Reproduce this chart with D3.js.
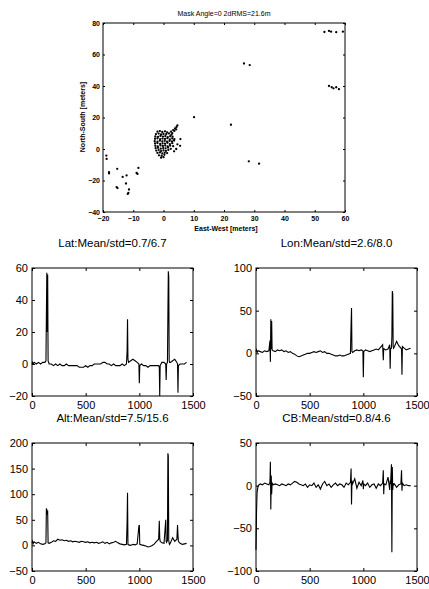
<!DOCTYPE html>
<html lang="en">
<head>
<meta charset="UTF-8" />
<title>Mask Angle=0 2dRMS=21.6m</title>
<style>
  body { margin: 0; background: #fff; }
  svg { display: block; }
  .ax text { font-family: "Liberation Sans", Arial, sans-serif; fill: #000; }
  .ax line { stroke: #000; }
</style>
</head>
<body>
<svg id="chart" width="429" height="589"></svg>
<script src="https://cdn.jsdelivr.net/npm/d3@7"></script>
<script>
// Position fixes, East-West / North-South in meters
const eastWest = [
  53.2, 54.7, 55.4, 57.1, 59.3, 26.6, 28.5, 54.7, 55.6, 56.2, 57.1, 58.0,
  10.1, 22.3, 28.2, 31.6,
  -18.9, -18.8, -18.0, -18.0, -15.3, -13.5, -12.2, -8.9, -8.6, -8.3,
  -15.5, -15.2, -12.4, -11.6, -11.4, -11.8,
  // main cluster
  -2.0, -1.2, -0.4, 0.5, 1.2,
  -2.5, -1.6, -0.8, 0.0, 0.9, 1.8, 2.6,
  -2.7, -1.8, -1.0, -0.2, 0.6, 1.4, 2.2, 3.0,
  -2.8, -2.0, -1.1, -0.3, 0.5, 1.3, 2.1, 2.9, 3.6,
  -2.9, -2.0, -1.2, -0.4, 0.4, 1.2, 2.0, 2.8, 3.5,
  -2.8, -2.0, -1.1, -0.3, 0.5, 1.3, 2.1, 2.9,
  -2.7, -1.9, -1.0, -0.2, 0.6, 1.4, 2.2, 3.2,
  -2.6, -1.8, -0.9, -0.1, 0.7, 1.5, 2.4,
  -2.4, -1.6, -0.8, 0.0, 0.8, 1.6,
  -2.0, -1.2, -0.4, 0.4, 1.2,
  -1.5, -0.6, 0.3,
  -0.8, 0.0,
  2.5, 3.2, 3.8, 4.3, 4.6, 3.6, 4.2, 2.9,
  5.6, 4.6, 4.2, 5.5, 3.5
];
const northSouth = [
  74.3, 75.0, 74.5, 74.2, 74.5, 54.3, 53.3, 40.0, 39.2, 38.5, 39.2, 38.0,
  20.2, 15.4, -7.8, -9.3,
  -4.2, -6.3, -14.7, -15.5, -12.6, -17.7, -16.8, -15.2, -15.8, -12.0,
  -24.2, -24.8, -21.9, -27.8, -25.7, -28.5,
  11.0, 11.4, 10.8, 11.2, 10.6,
  9.5, 9.8, 9.2, 9.6, 9.4, 9.9, 9.1,
  8.0, 7.7, 8.3, 7.9, 8.2, 7.6, 8.1, 7.8,
  6.5, 6.8, 6.2, 6.6, 6.4, 6.9, 6.1, 6.7, 6.3,
  5.0, 4.7, 5.3, 4.9, 5.2, 4.6, 5.1, 4.8, 5.4,
  3.5, 3.8, 3.2, 3.6, 3.4, 3.9, 3.1, 3.7,
  2.0, 1.7, 2.3, 1.9, 2.2, 1.6, 2.1, 1.8,
  0.5, 0.8, 0.2, 0.6, 0.4, 0.9, 0.1,
  -1.0, -0.7, -1.3, -0.9, -1.2, -0.6,
  -2.5, -2.2, -2.8, -2.4, -2.6,
  -4.0, -4.3, -3.7,
  -5.5, -5.2,
  11.0, 12.0, 13.0, 14.0, 15.0, 11.5, 12.5, 10.0,
  6.3, 3.0, 0.0, 2.0, -1.5
];

// Epoch index shared by the four error series
const t = [0,5,10,20,40,60,80,100,120,130,
  134,138,142,146,150,160,180,200,220,240,
  260,280,300,320,340,360,380,400,420,440,
  460,480,500,520,540,560,580,600,620,640,
  660,680,700,720,740,760,780,800,820,840,
  860,880,886,890,894,900,920,940,960,980,
  996,1000,1004,1020,1040,1060,1080,1100,1120,1140,
  1160,1180,1186,1190,1194,1210,1230,1246,1250,1254,
  1262,1266,1270,1274,1278,1282,1290,1310,1330,1350,
  1356,1360,1364,1380,1400,1420,1440];

const lat = [0,1,0,1,0,1,0,1,1,2,
  30,57,20,56,2,0,0,-1,0,-1,
  0,-1,-1,0,-1,-1,-1,-1,-1,-2,
  -2,-2,-1,-2,-1,-1,0,0,0,0,
  1,1,0,0,-1,0,-1,-1,-1,0,
  -1,0,8,28,3,1,2,3,2,1,
  0,-12,-1,0,-1,-1,-2,-1,-1,-1,
  -1,-1,-2,-20,-1,1,1,0,-10,0,
  1,30,58,55,2,1,1,2,3,1,
  0,-18,-1,0,0,0,1];

const lon = [2,4,1,3,2,1,3,2,3,15,
  -10,40,5,38,4,3,2,4,3,4,
  2,3,1,2,0,-1,-3,-4,-3,-2,
  -1,0,0,1,2,1,2,3,1,2,
  0,0,-1,-2,-3,-3,-2,-3,-3,-2,
  -1,0,35,53,2,1,3,4,3,4,
  3,-28,2,4,3,2,3,4,5,4,
  7,10,-8,6,5,4,5,10,-18,6,
  6,20,73,70,8,6,8,14,9,6,
  5,-25,8,6,4,5,6];

const alt = [5,8,3,7,4,6,3,2,3,5,
  72,70,60,68,5,4,6,9,8,12,
  10,11,9,10,8,9,7,8,7,6,
  8,7,6,7,5,6,5,6,4,5,
  7,4,6,3,5,6,8,5,3,2,
  1,2,45,103,2,1,0,2,1,3,
  38,40,2,1,0,-1,-3,-2,0,3,
  8,12,48,15,8,5,4,50,8,6,
  10,180,175,10,4,2,5,15,8,12,
  40,20,8,4,2,3,4];

const cb = [-75,-30,-8,0,2,1,3,2,1,4,
  28,-28,12,-10,3,1,2,1,0,2,
  1,0,2,1,3,5,4,2,1,0,
  2,-2,1,0,3,-2,1,-4,2,5,
  0,2,-2,1,3,0,2,1,-2,3,
  1,4,20,-22,6,2,8,-3,4,0,
  6,-4,2,0,3,-2,1,2,-3,2,
  0,3,18,-10,2,1,10,-5,6,2,
  25,-78,22,-5,3,1,2,-2,1,2,
  18,-6,3,0,1,0,0];

const timeTicks = [0, 500, 1000, 1500];
const ewTicks = [-20, -10, 0, 10, 20, 30, 40, 50, 60];
const nsTicks = [-40, -20, 0, 20, 40, 60, 80];

const svg = d3.select("#chart");
const plain = d3.format("d");

function frameAxes(g, x, y, box, xt, yt, fs, pad, tk) {
  const b = box.y + box.h, r = box.x + box.w;
  g.append("g").attr("class", "ax").attr("transform", `translate(0,${b})`)
    .call(d3.axisBottom(x).tickValues(xt).tickFormat(plain).tickSize(-tk).tickSizeOuter(0).tickPadding(pad))
    .call(s => s.select(".domain").remove());
  g.append("g").attr("class", "ax").attr("transform", `translate(0,${box.y})`)
    .call(d3.axisTop(x).tickValues(xt).tickSize(-tk).tickSizeOuter(0).tickFormat(""))
    .call(s => s.select(".domain").remove());
  g.append("g").attr("class", "ax").attr("transform", `translate(${box.x},0)`)
    .call(d3.axisLeft(y).tickValues(yt).tickFormat(plain).tickSize(-tk).tickSizeOuter(0).tickPadding(pad - 1))
    .call(s => s.select(".domain").remove());
  g.append("g").attr("class", "ax").attr("transform", `translate(${r},0)`)
    .call(d3.axisRight(y).tickValues(yt).tickSize(-tk).tickSizeOuter(0).tickFormat(""))
    .call(s => s.select(".domain").remove());
  g.selectAll(".ax").attr("font-size", fs).attr("font-family", null);
  g.append("rect").attr("x", box.x).attr("y", box.y).attr("width", box.w).attr("height", box.h)
    .attr("fill", "none").attr("stroke", "#000").attr("stroke-width", 1);
}

// Top: horizontal scatter
const sBox = { x: 103, y: 23, w: 242, h: 189 };
const sx = d3.scaleLinear().domain([-20, 60]).range([sBox.x, sBox.x + sBox.w]);
const sy = d3.scaleLinear().domain([-40, 80]).range([sBox.y + sBox.h, sBox.y]);
const scatterG = svg.append("g");
scatterG.selectAll("circle").data(eastWest).join("circle")
  .attr("cx", d => sx(d)).attr("cy", (d, i) => sy(northSouth[i]))
  .attr("r", 1.15).attr("fill", "#000");
frameAxes(scatterG, sx, sy, sBox, ewTicks, nsTicks, 7, 4, 2);
scatterG.selectAll(".ax text").attr("font-weight", "bold");
scatterG.append("text").attr("x", 224).attr("y", 16).attr("text-anchor", "middle")
  .attr("font-family", "Liberation Sans, Arial, sans-serif").attr("font-size", 7)
  .text("Mask Angle=0  2dRMS=21.6m");
scatterG.append("text").attr("x", 226).attr("y", 231).attr("text-anchor", "middle")
  .attr("font-family", "Liberation Sans, Arial, sans-serif").attr("font-size", 7).attr("font-weight", "bold")
  .text("East-West [meters]");
scatterG.append("text").attr("transform", "translate(85,117) rotate(-90)").attr("text-anchor", "middle")
  .attr("font-family", "Liberation Sans, Arial, sans-serif").attr("font-size", 7).attr("font-weight", "bold")
  .text("North-South [meters]");

// Bottom: four error time series
function drawSeries(box, yDomain, yTicks, values, title) {
  const x = d3.scaleLinear().domain([0, 1500]).range([box.x, box.x + box.w]);
  const y = d3.scaleLinear().domain(yDomain).range([box.y + box.h, box.y]);
  const g = svg.append("g");
  g.append("path").datum(t)
    .attr("d", d3.line().x(d => x(d)).y((d, i) => y(values[i])))
    .attr("fill", "none").attr("stroke", "#000").attr("stroke-width", 1.1);
  frameAxes(g, x, y, box, timeTicks, yTicks, 11, 5, 3);
  g.append("text").attr("x", box.x + box.w / 2).attr("y", box.y - 21).attr("text-anchor", "middle")
    .attr("font-family", "Liberation Sans, Arial, sans-serif").attr("font-size", 11.5)
    .text(title);
}

drawSeries({ x: 32, y: 268, w: 161, h: 128 }, [-20, 60], [-20, 0, 20, 40, 60], lat, "Lat:Mean/std=0.7/6.7");
drawSeries({ x: 256, y: 268, w: 161, h: 128 }, [-50, 100], [-50, 0, 50, 100], lon, "Lon:Mean/std=2.6/8.0");
drawSeries({ x: 32, y: 443, w: 161, h: 128 }, [-50, 200], [-50, 0, 50, 100, 150, 200], alt, "Alt:Mean/std=7.5/15.6");
drawSeries({ x: 256, y: 443, w: 161, h: 128 }, [-100, 50], [-100, -50, 0, 50], cb, "CB:Mean/std=0.8/4.6");
</script>
</body>
</html>
